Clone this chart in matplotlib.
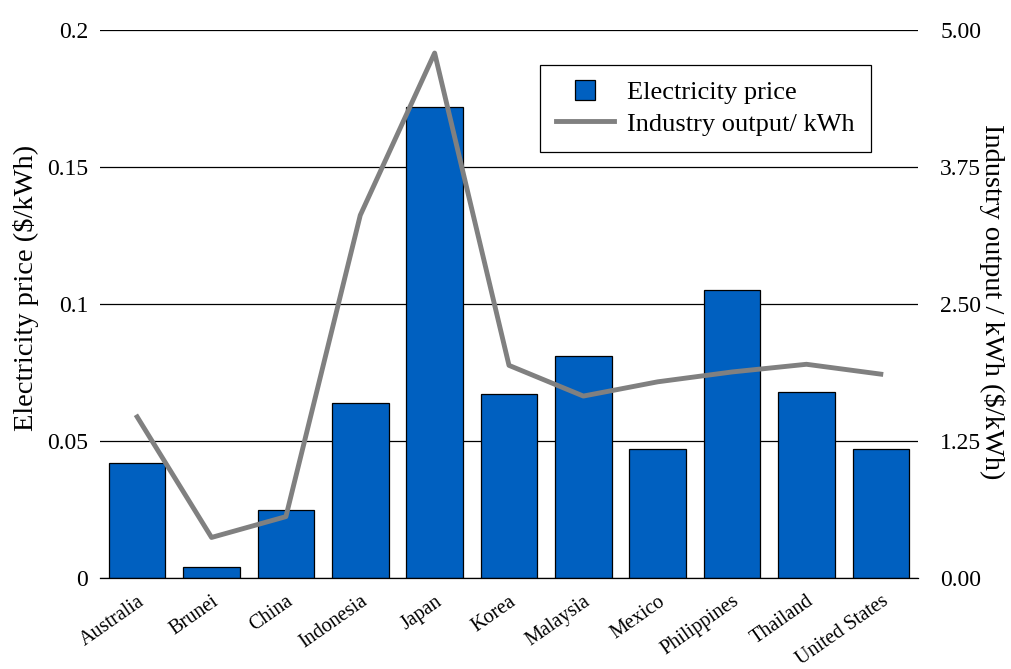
import matplotlib
matplotlib.use("Agg")
import matplotlib.pyplot as plt
from matplotlib.lines import Line2D

plt.rcParams['font.family'] = ['Liberation Serif', 'DejaVu Serif']

countries = ["Australia", "Brunei", "China", "Indonesia", "Japan", "Korea",
             "Malaysia", "Mexico", "Philippines", "Thailand", "United States"]
electricity_price = [0.042, 0.004, 0.025, 0.064, 0.172, 0.067, 0.081, 0.047, 0.105, 0.068, 0.047]
industry_output = [1.47, 0.37, 0.56, 3.31, 4.79, 1.94, 1.66, 1.79, 1.88, 1.95, 1.86]
left_ticks = [0, 0.05, 0.1, 0.15, 0.2]
left_labels = ["0", "0.05", "0.1", "0.15", "0.2"]
right_ticks = [0, 1.25, 2.5, 3.75, 5.0]
right_labels = ["0.00", "1.25", "2.50", "3.75", "5.00"]

BAR = '#0060C0'
LINE = '#808080'

fig = plt.figure(figsize=(10.12, 6.69), dpi=100)
ax = fig.add_axes([100/1012, 1-578/669, 818/1012, 548/669])
x = list(range(len(countries)))
ax.set_axisbelow(True)
ax.yaxis.grid(True, color='black', linewidth=0.9)
ax.bar(x, electricity_price, width=0.76, color=BAR, edgecolor='black', linewidth=0.9, zorder=2)
ax.set_xlim(-0.5, len(countries)-0.5)
ax.set_ylim(0, 0.2)
ax.set_yticks(left_ticks)
ax.set_yticklabels(left_labels, fontsize=17)
ax.tick_params(axis='y', length=0, pad=8.5)
ax.set_xticks(x)
ax.set_xticklabels(countries, rotation=35, ha='right', rotation_mode='anchor', fontsize=14.5)
ax.tick_params(axis='x', length=0, pad=10)
for s in ['top', 'right', 'left']:
    ax.spines[s].set_visible(False)
ax.spines['bottom'].set_linewidth(0.9)
ax.set_ylabel("Electricity price ($/kWh)", fontsize=20.5)
ax.yaxis.set_label_coords(-0.0900, 0.529)
ax.yaxis.label.set_verticalalignment('center')

ax2 = ax.twinx()
ax2.plot(x, industry_output, color=LINE, linewidth=3.5, zorder=3)
ax2.set_ylim(0, 5)
ax2.set_yticks(right_ticks)
ax2.set_yticklabels(right_labels, fontsize=17)
ax2.tick_params(axis='y', length=0, pad=16)
for s in ['top', 'right', 'left', 'bottom']:
    ax2.spines[s].set_visible(False)
ax2.set_ylabel("Industry output / kWh ($/kWh)", fontsize=20.5, rotation=270)
ax2.yaxis.set_label_coords(1.0905, 0.504)
ax2.yaxis.label.set_verticalalignment('center')
ax2.yaxis.label.set_horizontalalignment('center')

handles = [Line2D([0], [0], linestyle='none', marker='s', markersize=14.5,
                  markerfacecolor=BAR, markeredgecolor='black', markeredgewidth=0.9),
           Line2D([0], [0], color=LINE, linewidth=3.5)]
leg = ax2.legend(handles, ["Electricity price", "Industry output/ kWh"], loc='upper left',
                 bbox_to_anchor=((540-100)/818, (578-65)/548), borderaxespad=0,
                 fontsize=19, frameon=True, fancybox=False, edgecolor='black',
                 framealpha=1, handlelength=2.2, handletextpad=0.5,
                 borderpad=0.6, labelspacing=0.3)
leg.get_frame().set_linewidth(0.9)

fig.savefig("out.png", dpi=100)
